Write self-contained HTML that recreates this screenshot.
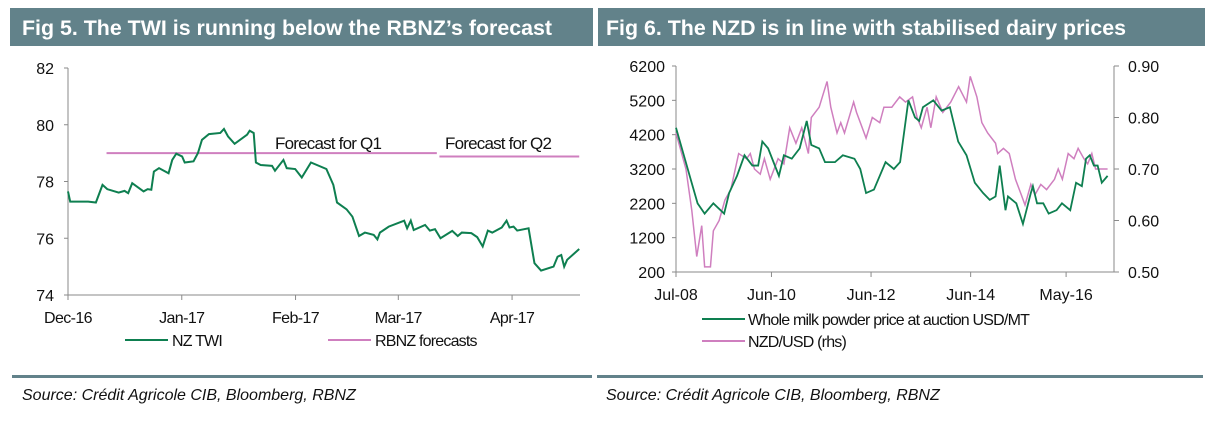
<!DOCTYPE html>
<html><head><meta charset="utf-8"><style>
body{margin:0;width:1215px;height:421px;background:#fff;overflow:hidden;font-family:"Liberation Sans",Arial,sans-serif}
svg text{font-family:"Liberation Sans",Arial,sans-serif}
</style></head><body>
<svg width="1215" height="421">
<rect x="10" y="8" width="583" height="38" fill="#62828a"/>
<text x="22" y="35" fill="#fff" font-size="21" font-weight="bold" textLength="530" lengthAdjust="spacingAndGlyphs">Fig 5. The TWI is running below the RBNZ’s forecast</text>
<rect x="598" y="8" width="607" height="38" fill="#62828a"/>
<text x="606" y="35" fill="#fff" font-size="21" font-weight="bold" textLength="520" lengthAdjust="spacingAndGlyphs">Fig 6. The NZD is in line with stabilised dairy prices</text>
<g id="left"></g>
<g id="right"></g>
<rect x="12" y="375" width="580" height="3" fill="#62828a"/>
<rect x="597" y="375" width="606" height="3" fill="#62828a"/>
<text x="22" y="400" font-size="16" font-style="italic" fill="#111">Source: Crédit Agricole CIB, Bloomberg, RBNZ</text>
<text x="606" y="400" font-size="16" font-style="italic" fill="#111">Source: Crédit Agricole CIB, Bloomberg, RBNZ</text>
</svg>
<script>
// Fig 5 data (days since 1 Dec 2016)
const twiDays=[0,0.6,2.3,5.5,7.6,9.4,10.7,13.8,15.4,16.4,17.5,20.6,21.7,22.7,23.4,24.8,27.4,28.4,29.5,31.1,31.8,34.2,35.4,36.5,38.4,41.5,42.5,43.6,45.4,48.8,49.5,50.6,51.2,52.5,55.6,56.4,58.7,59.6,61.9,63.7,66.2,70.4,72.3,73.3,75.9,77.5,79.3,80.9,83.3,84.3,85.0,87.4,91.6,92.4,93.4,94.2,97.3,98.6,100.0,101.5,104.7,106.2,107.3,109.9,111.5,113.0,114.4,115.6,118.2,119.5,120.3,121.4,122.4,125.5,127.1,128.9,132.3,133.4,134.4,135.2,136.0,139.3];
const twiVals=[77.65,77.29,77.29,77.29,77.26,77.88,77.73,77.61,77.67,77.59,77.94,77.65,77.73,77.71,78.35,78.47,78.29,78.76,78.98,78.88,78.67,78.71,79.0,79.47,79.67,79.71,79.85,79.59,79.33,79.65,79.79,79.71,78.67,78.58,78.55,78.38,78.76,78.47,78.44,78.14,78.67,78.44,77.88,77.26,77.02,76.76,76.08,76.2,76.12,75.96,76.2,76.41,76.62,76.35,76.62,76.29,76.47,76.27,76.32,76.0,76.26,76.08,76.2,76.18,76.04,75.71,76.27,76.2,76.38,76.62,76.38,76.41,76.27,76.35,75.12,74.86,75.0,75.35,75.41,75.0,75.24,75.62];
const fcStart=[10.5,101.2], fcEnd=[100.5,139.3], fcVals=[79.0,78.88];
const leftTicks=[74,76,78,80,82];
const monthLabels=["Dec-16","Jan-17","Feb-17","Mar-17","Apr-17"], monthDays=[0,31,62,90,121];
// Fig 6 data (months since Jul 2008)
const wmpMonths=[0,3.3,5.2,6.9,9,11.6,12.8,14.7,16.5,18.4,19.8,20.8,22.2,24.8,26,27.9,29.8,31.5,32.6,34.5,35.9,38.3,40.2,43,44.4,45.8,47.7,50.5,52.5,54,56,57.6,58.6,59.5,62,64,66,68,70,72,74,75.6,77,78,79.4,80,82,83.6,85.5,86,87,88.5,89.8,91.7,93,95,96.4,97.8,98.8,99.7,100.7,101.6,102.6,104];
const wmpVals=[4400,3000,2200,1900,2200,1900,2500,3000,3600,3300,3300,4000,3800,3000,3600,3500,3800,4600,3900,3800,3400,3400,3600,3500,3200,2500,2600,3400,3200,3400,5200,4700,4600,5000,5200,4900,5000,4000,3600,2800,2500,2300,2400,3300,2000,2400,2200,1600,2500,2700,2200,2200,1900,2000,2200,2000,2800,2700,3500,3600,3300,3300,2800,3000];
const nzdMonths=[0,2.4,3.8,5.0,6.2,6.9,8.3,9.0,10.4,11.8,13.2,15.1,17.0,17.9,18.9,20.3,21.3,22.7,24.6,26.0,27.4,28.9,30.3,31.9,32.6,34.5,36.4,37.3,38.8,39.7,40.6,42.8,43.5,45.8,47.3,49.1,50.1,52.0,53.9,55.3,57.0,58.1,59.1,60.5,61.4,62.7,64.3,66.2,68.1,70.0,70.9,72.5,73.7,75.1,77.0,77.5,78.9,80.3,81.8,83.2,84.1,85.5,86.5,87.9,89.3,91.2,92.1,93.1,94.5,95.9,96.9,98.3,99.2,100.2,101.1,102.6,104.0];
const nzdVals=[0.77,0.70,0.62,0.53,0.59,0.51,0.51,0.58,0.60,0.64,0.66,0.73,0.72,0.73,0.70,0.69,0.72,0.68,0.72,0.71,0.78,0.75,0.78,0.73,0.80,0.82,0.87,0.82,0.77,0.79,0.77,0.83,0.81,0.76,0.80,0.79,0.82,0.82,0.84,0.83,0.84,0.80,0.78,0.82,0.78,0.84,0.81,0.83,0.86,0.83,0.88,0.84,0.79,0.77,0.75,0.73,0.74,0.73,0.68,0.65,0.63,0.67,0.65,0.67,0.66,0.68,0.70,0.68,0.73,0.72,0.74,0.72,0.71,0.73,0.70,0.70,0.70];
const lTicks=[200,1200,2200,3200,4200,5200,6200], rTicks=[0.50,0.60,0.70,0.80,0.90];
const rLabels=["0.50","0.60","0.70","0.80","0.90"];
const xLabels=["Jul-08","Jun-10","Jun-12","Jun-14","May-16"], xMonths=[0,23,47,71,94];

const NS="http://www.w3.org/2000/svg";
function mk(p,t,a){const e=document.createElementNS(NS,t);for(const k in a)e.setAttribute(k,a[k]);p.appendChild(e);return e;}
const GREEN="#0e7f50",PINK="#cf7fbf",AX="#8a8a8a";

// LEFT
const L=document.getElementById('left');
const lx=d=>68+d*3.67, ly=v=>295-(v-74)*28.375;
let e=mk(L,'line',{x1:68,y1:68,x2:68,y2:295,stroke:AX});

e=mk(L,'line',{x1:68,y1:295,x2:580,y2:295,stroke:AX});

leftTicks.forEach(v=>{mk(L,'line',{x1:64,y1:ly(v),x2:68,y2:ly(v),stroke:AX});
 const t=mk(L,'text',{x:54,y:ly(v)+6,'font-size':16,'text-anchor':'end',fill:'#111'});t.textContent=v;
 });
monthLabels.forEach((m,i)=>{mk(L,'line',{x1:lx(monthDays[i]),y1:295,x2:lx(monthDays[i]),y2:300,stroke:AX});
 const t=mk(L,'text',{x:lx(monthDays[i]),y:323,'font-size':16,'text-anchor':'middle',fill:'#111','letter-spacing':'-0.6'});t.textContent=m;
 });
fcVals.forEach((v,i)=>{const f=mk(L,'line',{x1:lx(fcStart[i]),y1:ly(v),x2:lx(fcEnd[i]),y2:ly(v),stroke:PINK,'stroke-width':2});
 });
[["Forecast for Q1",275],["Forecast for Q2",445]].forEach(([s,x])=>{const t=mk(L,'text',{x:x,y:149,'font-size':17,fill:'#111','letter-spacing':'-0.8'});t.textContent=s;
 });
e=mk(L,'polyline',{points:twiDays.map((d,i)=>lx(d)+','+ly(twiVals[i])).join(' '),fill:'none',stroke:GREEN,'stroke-width':2});

[[125,'NZ TWI',GREEN],[328,'RBNZ forecasts',PINK]].forEach(([x,s,c])=>{
 const g=mk(L,'g',{});
 mk(g,'line',{x1:x,y1:340,x2:x+43,y2:340,stroke:c,'stroke-width':2});
 const t=mk(g,'text',{x:x+47,y:346,'font-size':16,fill:'#111','letter-spacing':'-0.8'});t.textContent=s;});

// RIGHT
const R=document.getElementById('right');
const rx=m=>676+m*4.15, ry=v=>272-(v-200)/6000*206, ry2=v=>272-(v-0.5)/0.4*206;
e=mk(R,'line',{x1:676,y1:66,x2:676,y2:272,stroke:AX});

e=mk(R,'line',{x1:1114,y1:66,x2:1114,y2:272,stroke:AX});

e=mk(R,'line',{x1:676,y1:272,x2:1114,y2:272,stroke:AX});

lTicks.forEach(v=>{mk(R,'line',{x1:672,y1:ry(v),x2:676,y2:ry(v),stroke:AX});
 const t=mk(R,'text',{x:665,y:ry(v)+6,'font-size':16,'text-anchor':'end',fill:'#111'});t.textContent=v;
 });
rTicks.forEach((v,i)=>{mk(R,'line',{x1:1114,y1:ry2(v),x2:1119,y2:ry2(v),stroke:AX});
 const t=mk(R,'text',{x:1128,y:ry2(v)+6,'font-size':16,fill:'#111'});t.textContent=rLabels[i];
 });
xLabels.forEach((s,i)=>{mk(R,'line',{x1:rx(xMonths[i]),y1:272,x2:rx(xMonths[i]),y2:277,stroke:AX});
 const t=mk(R,'text',{x:rx(xMonths[i]),y:300,'font-size':16,'text-anchor':'middle',fill:'#111'});t.textContent=s;
 });
e=mk(R,'polyline',{points:nzdMonths.map((m,i)=>rx(m)+','+ry2(nzdVals[i])).join(' '),fill:'none',stroke:PINK,'stroke-width':1.5});

e=mk(R,'polyline',{points:wmpMonths.map((m,i)=>rx(m)+','+ry(wmpVals[i])).join(' '),fill:'none',stroke:GREEN,'stroke-width':1.8});

[[319,'Whole milk powder price at auction USD/MT',GREEN],[341,'NZD/USD (rhs)',PINK]].forEach(([y,s,c])=>{
 const g=mk(R,'g',{});
 mk(g,'line',{x1:702,y1:y,x2:745,y2:y,stroke:c,'stroke-width':2});
 const t=mk(g,'text',{x:748,y:y+6,'font-size':16,fill:'#111','letter-spacing':'-0.8'});t.textContent=s;});
</script>
</body></html>
